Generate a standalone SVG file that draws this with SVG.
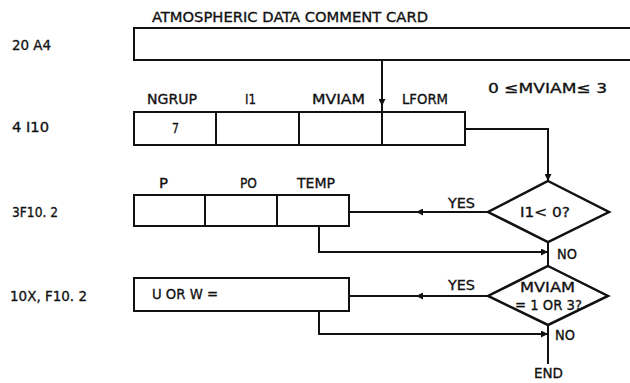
<svg xmlns="http://www.w3.org/2000/svg" width="630" height="383" viewBox="0 0 630 383">
<defs>
<style>
text{font-family:"DejaVu Sans Condensed","DejaVu Sans","Liberation Sans",sans-serif;font-stretch:condensed;font-size:14px;fill:#111;stroke:#111;stroke-width:0.3}
.box{fill:#fff;stroke:#111;stroke-width:2}
.ln{fill:none;stroke:#111;stroke-width:2}
.dm{fill:#fff;stroke:#111;stroke-width:2.5}
</style>
<marker id="ah" viewBox="0 0 10 10" refX="10" refY="5" markerWidth="9" markerHeight="7" markerUnits="userSpaceOnUse" orient="auto">
<path d="M0,0 L10,5 L0,10 Z" fill="#111"/>
</marker>
</defs>
<g id="labels-left">
<text x="12" y="50" textLength="39" lengthAdjust="spacingAndGlyphs">20 A4</text>
<text x="12" y="132" textLength="37" lengthAdjust="spacingAndGlyphs">4 I10</text>
<text x="12" y="217" textLength="46" lengthAdjust="spacingAndGlyphs">3F10. 2</text>
<text x="10" y="301" textLength="77" lengthAdjust="spacingAndGlyphs">10X,  F10. 2</text>
</g>
<g id="card1">
<text x="152" y="22" textLength="276" lengthAdjust="spacingAndGlyphs">ATMOSPHERIC DATA COMMENT CARD</text>
<path class="ln" d="M632,28 H134 V60 H632"/>
</g>
<g id="card2">
<rect class="box" x="134" y="112" width="331" height="33"/>
<path class="ln" d="M216,112 V145 M299,112 V145"/>
<text x="147" y="104" textLength="50" lengthAdjust="spacingAndGlyphs">NGRUP</text>
<text x="245" y="104" textLength="11" lengthAdjust="spacingAndGlyphs">I1</text>
<text x="312" y="104" textLength="53" lengthAdjust="spacingAndGlyphs">MVIAM</text>
<text x="402" y="104" textLength="46" lengthAdjust="spacingAndGlyphs">LFORM</text>
<text x="172" y="133" textLength="7" lengthAdjust="spacingAndGlyphs">7</text>
<text x="488" y="93" textLength="119" lengthAdjust="spacingAndGlyphs">0 ≤MVIAM≤ 3</text>
</g>
<g id="card3">
<rect class="box" x="134" y="195" width="215" height="31"/>
<path class="ln" d="M205,195 V226 M277,195 V226"/>
<text x="159" y="188" textLength="9" lengthAdjust="spacingAndGlyphs">P</text>
<text x="240" y="188" textLength="17" lengthAdjust="spacingAndGlyphs">PO</text>
<text x="297" y="188" textLength="38" lengthAdjust="spacingAndGlyphs">TEMP</text>
</g>
<g id="card4">
<rect class="box" x="134" y="278" width="215" height="33"/>
<text x="152" y="299" textLength="66" lengthAdjust="spacingAndGlyphs">U OR W =</text>
</g>
<g id="decision1">
<polygon class="dm" points="548,181 609,212 548,242 488,212"/>
<text x="520" y="217" textLength="50" lengthAdjust="spacingAndGlyphs">I1&lt; 0?</text>
</g>
<g id="decision2">
<polygon class="dm" points="548,266 608,296 548,325 488,296"/>
<text x="520" y="292" textLength="55" lengthAdjust="spacingAndGlyphs">MVIAM</text>
<text x="515" y="310" textLength="67" lengthAdjust="spacingAndGlyphs">= 1 OR 3?</text>
</g>
<g id="end">
<text x="534" y="378" textLength="29" lengthAdjust="spacingAndGlyphs">END</text>
</g>
<g id="connectors">
<path class="ln" d="M382,60 V106" marker-end="url(#ah)"/>
<path class="ln" d="M382,106 V145"/>
<path class="ln" d="M465,129 H548 V181" marker-end="url(#ah)"/>
<path class="ln" d="M488,212 H416" marker-end="url(#ah)"/>
<path class="ln" d="M418,212 H349"/>
<text x="448" y="208" textLength="27" lengthAdjust="spacingAndGlyphs">YES</text>
<path class="ln" d="M319,226 V252 H548" marker-end="url(#ah)"/>
<path class="ln" d="M548,242 V266"/>
<text x="557" y="259" textLength="20" lengthAdjust="spacingAndGlyphs">NO</text>
<path class="ln" d="M488,296 H416" marker-end="url(#ah)"/>
<path class="ln" d="M418,296 H349"/>
<text x="448" y="290" textLength="27" lengthAdjust="spacingAndGlyphs">YES</text>
<path class="ln" d="M319,311 V334 H548" marker-end="url(#ah)"/>
<path class="ln" d="M548,325 V364"/>
<text x="555" y="340" textLength="20" lengthAdjust="spacingAndGlyphs">NO</text>
</g>
</svg>
